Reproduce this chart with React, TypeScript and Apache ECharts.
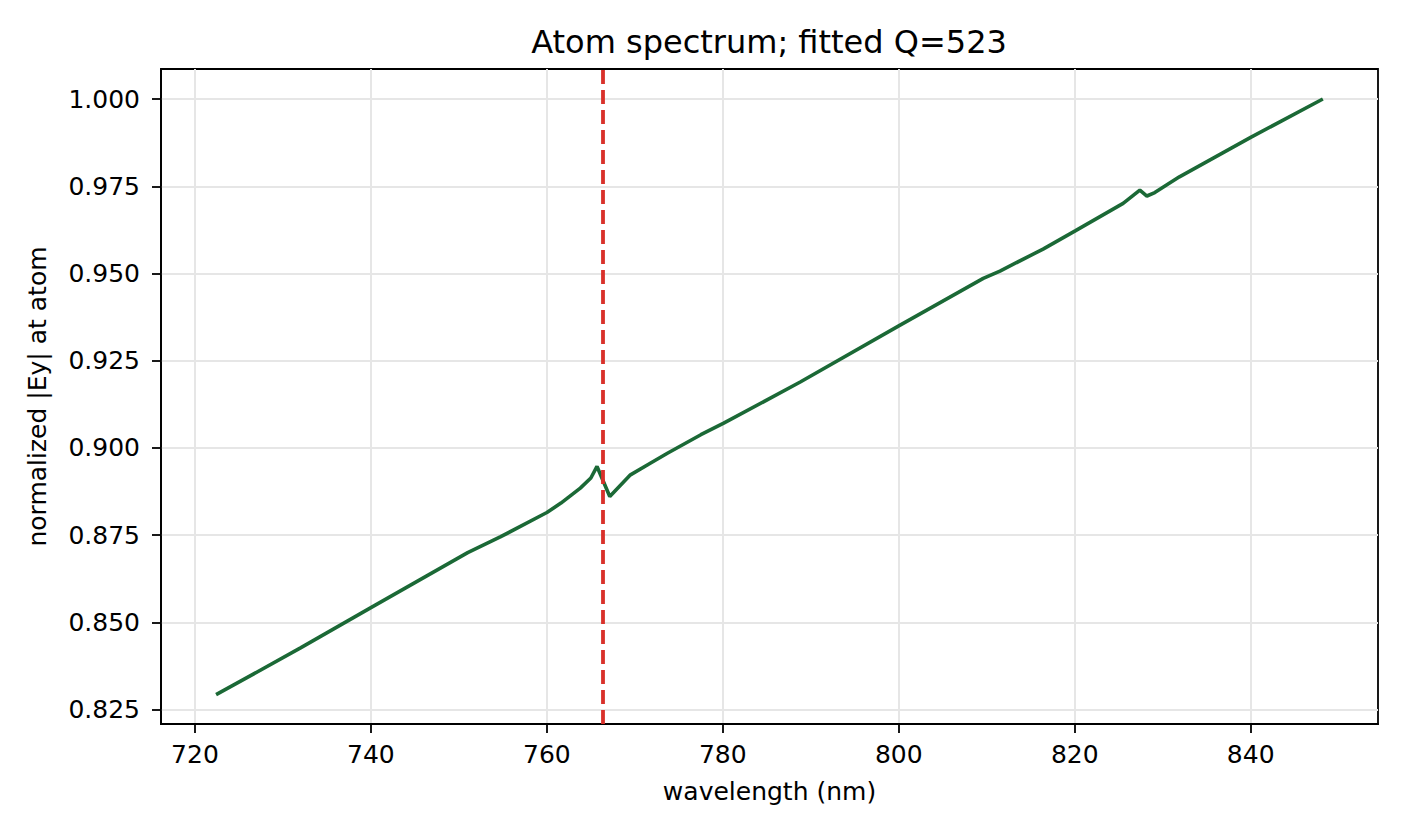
import React, { useEffect, useRef } from 'react'
import * as echarts from 'echarts'

// wavelength (nm) and normalized |Ey|
const wavelength = [
  722.4, 732.0, 740.1, 749.1, 751.0, 754.7, 760.0, 761.6, 763.8, 765.0,
  765.7, 767.15, 769.5, 771.8, 773.7, 777.5, 780.1, 788.8, 800.0, 809.6,
  811.5, 816.4, 820.1, 825.5, 827.4, 828.2, 829.1, 831.9, 840.0, 848.2
]
const eyNorm = [
  0.8293, 0.8427, 0.8544, 0.8673, 0.8700, 0.8745, 0.8815, 0.8842, 0.8885, 0.8914,
  0.8947, 0.8861, 0.8923, 0.8957, 0.8985, 0.9038, 0.9071, 0.9189, 0.9350, 0.9486,
  0.9507, 0.9570, 0.9623, 0.9701, 0.9739, 0.9722, 0.9732, 0.9777, 0.9890, 1.0000
]
const resonance = 766.3
const xTicks = [720, 740, 760, 780, 800, 820, 840]
const yTicks = [0.825, 0.85, 0.875, 0.9, 0.925, 0.95, 0.975, 1.0]

const FONT = 'DejaVu Sans'

const App: React.FC = () => {
  const chartRef = useRef<HTMLDivElement>(null)

  useEffect(() => {
    if (!chartRef.current) return
    const chart = echarts.init(chartRef.current, null, { renderer: 'svg' })

    const option: any = {
      animation: false,
      backgroundColor: '#ffffff',
      textStyle: { fontFamily: FONT, color: '#000' },
      title: {
        text: 'Atom spectrum; fitted Q=523',
        left: 764,
        top: 21,
        textAlign: 'center',
        textStyle: { fontFamily: FONT, fontSize: 32, fontWeight: 'normal', color: '#000' }
      },
      grid: {
        left: 161,
        right: 28,
        top: 69,
        bottom: 112,
        show: true,
        borderColor: '#000',
        borderWidth: 1.8,
        backgroundColor: 'transparent'
      },
      xAxis: {
        type: 'value',
        min: 716.14,
        max: 854.47,
        name: 'wavelength (nm)',
        nameLocation: 'middle',
        nameGap: 55,
        nameTextStyle: { fontFamily: FONT, fontSize: 25, color: '#000' },
        axisLine: { lineStyle: { color: '#000', width: 1.8 } },
        axisTick: { customValues: xTicks, length: 9, lineStyle: { color: '#000', width: 1.8 } },
        axisLabel: {
          customValues: xTicks,
          margin: 18,
          fontFamily: FONT,
          fontSize: 25,
          color: '#000',
          formatter: (v: number) => String(Math.round(v))
        },
        splitLine: { show: true, lineStyle: { color: '#e6e6e6', width: 2 } }
      },
      yAxis: {
        type: 'value',
        min: 0.8209,
        max: 1.0086,
        name: 'normalized |Ey| at atom',
        nameLocation: 'middle',
        nameGap: 111,
        nameTextStyle: { fontFamily: FONT, fontSize: 25, color: '#000' },
        axisLine: { show: true, lineStyle: { color: '#000', width: 1.8 } },
        axisTick: { show: true, customValues: yTicks, length: 9, lineStyle: { color: '#000', width: 1.8 } },
        axisLabel: {
          customValues: yTicks,
          margin: 21,
          fontFamily: FONT,
          fontSize: 25,
          color: '#000',
          formatter: (v: number) => v.toFixed(3)
        },
        splitLine: { show: true, lineStyle: { color: '#e6e6e6', width: 2 } }
      },
      series: [
        {
          type: 'line',
          data: wavelength.map((w, i) => [w, eyNorm[i]]),
          showSymbol: false,
          smooth: false,
          lineStyle: { color: '#1b6936', width: 3.6 },
          markLine: {
            silent: true,
            symbol: ['none', 'none'],
            label: { show: false },
            lineStyle: { color: '#d9302a', width: 3.8, type: [14, 6] },
            data: [{ xAxis: resonance }]
          }
        }
      ]
    }

    chart.setOption(option)

    return () => {
      chart.dispose()
    }
  }, [])

  return (
    <div
      ref={chartRef}
      style={{ position: 'fixed', left: 0, top: 0, width: '1406px', height: '836px', background: '#fff' }}
    />
  )
}

export default App
